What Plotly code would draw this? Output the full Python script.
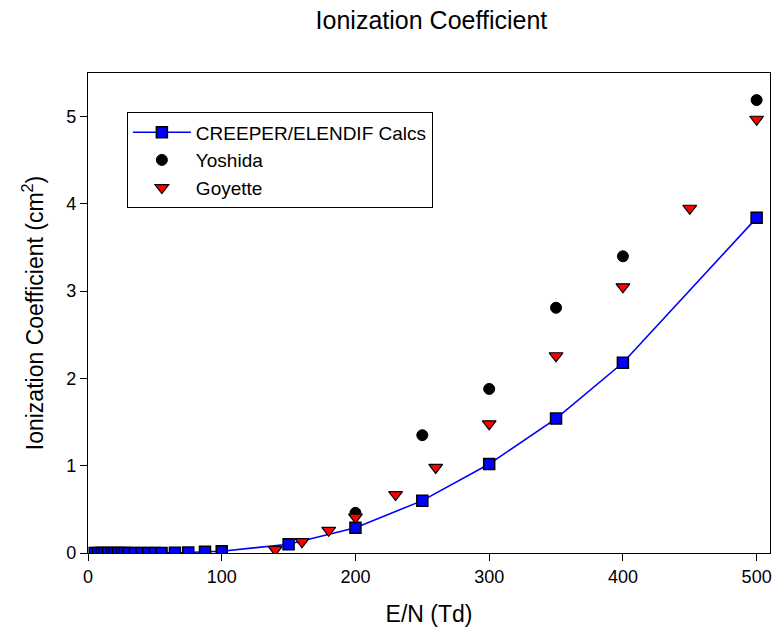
import plotly.graph_objects as go

# CREEPER/ELENDIF calculated ionization coefficients
calc_en = [5, 7.5, 10, 12.5, 15, 17.5, 20, 22.5, 25, 27.5, 30, 35, 40, 45, 50,
           55, 65, 75, 87.5, 100, 150, 200, 250, 300, 350, 400, 500]
calc_alpha = [0, 0, 0, 0, 0, 0, 0, 0, 0, 0, 0, 0, 0, 0, 0,
              0, 0.002, 0.005, 0.015, 0.02, 0.10, 0.29, 0.60, 1.02, 1.54, 2.18, 3.84]

# Yoshida measurements
yos_en = [200, 250, 300, 350, 400, 500]
yos_alpha = [0.46, 1.35, 1.88, 2.81, 3.40, 5.19]

# Goyette measurements
goy_en = [140, 160, 180, 200, 230, 260, 300, 350, 400, 450, 500]
goy_alpha = [0.04, 0.13, 0.26, 0.41, 0.67, 0.98, 1.48, 2.26, 3.05, 3.95, 4.97]

x_ticks = [0, 100, 200, 300, 400, 500]
y_ticks = [0, 1, 2, 3, 4, 5]

fig = go.Figure()
fig.add_trace(go.Scatter(
    x=calc_en, y=calc_alpha, mode="lines+markers", name="CREEPER/ELENDIF Calcs",
    line=dict(color="#0000FF", width=1.6),
    marker=dict(symbol="square", size=11, color="#0000FF",
                line=dict(color="black", width=1.5)),
))
fig.add_trace(go.Scatter(
    x=yos_en, y=yos_alpha, mode="markers", name="Yoshida",
    marker=dict(symbol="circle", size=11, color="black",
                line=dict(color="black", width=1)),
))
fig.add_trace(go.Scatter(
    x=goy_en, y=goy_alpha, mode="markers", name="Goyette",
    marker=dict(symbol="triangle-down", size=12, color="#FF0000",
                line=dict(color="black", width=1.2)),
))

font_family = "Liberation Sans, Arial, sans-serif"

fig.update_layout(
    width=783, height=635,
    margin=dict(l=88, r=11, t=73, b=82),
    paper_bgcolor="white", plot_bgcolor="white",
    font=dict(family=font_family, color="black", size=18),
    title=dict(text="Ionization Coefficient", x=0.551, xanchor="center",
               y=0.968, yanchor="middle", font=dict(size=25)),
    showlegend=True,
    legend=dict(x=0.057, y=0.918, xanchor="left", yanchor="top",
                bordercolor="black", borderwidth=1, bgcolor="white",
                font=dict(size=19), itemwidth=58,
                tracegroupgap=0),
)
fig.update_xaxes(
    range=[0, 510], tickvals=x_ticks, ticks="outside", ticklen=7, tickwidth=1,
    tickcolor="black", showline=True, linecolor="black", linewidth=1.2,
    mirror=True, showgrid=False, zeroline=False,
    tickfont=dict(size=18),
    title=dict(text="E/N (Td)", font=dict(size=23), standoff=20),
)
fig.update_yaxes(
    range=[0, 5.5], tickvals=y_ticks, ticks="outside", ticklen=7, tickwidth=1,
    tickcolor="black", showline=True, linecolor="black", linewidth=1.2,
    mirror=True, showgrid=False, zeroline=False,
    tickfont=dict(size=18),
    title=dict(text="Ionization Coefficient (cm<sup>2</sup>)", font=dict(size=23),
               standoff=16),
)

fig.write_html("out.html")
